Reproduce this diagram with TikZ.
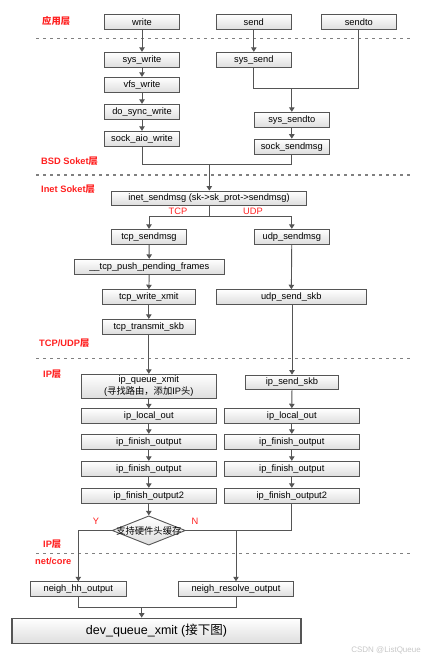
\documentclass[tikz,border=0pt]{standalone}
\usepackage{fontspec}
\setmainfont{Liberation Sans}
\newfontfamily\cjkfont{Noto Sans CJK SC}
\newcommand\zhtxt[1]{{\cjkfont #1}}
\usetikzlibrary{arrows.meta,shapes.geometric}
\definecolor{linegray}{HTML}{555555}
\definecolor{labelred}{HTML}{FF2020}
\tikzset{
  fbox/.style={draw=linegray, line width=0.9pt, top color=white, bottom color=black!13,
    minimum height=15pt, inner sep=0pt, font=\fontsize{9.3}{10}\selectfont, text=black},
  conn/.style={draw=linegray, line width=0.9pt},
  arr/.style={conn, -{Triangle[width=5.5pt,length=4.5pt]}},
  sep/.style={draw=black!50, line width=1.1pt, dash pattern=on 2.5pt off 4.5pt},
  layer/.style={text=labelred, font=\bfseries\fontsize{9.3}{10}\selectfont, anchor=west, inner sep=0pt},
  branch/.style={text=labelred, font=\fontsize{9.3}{10}\selectfont, inner sep=0pt},
}
\begin{document}
\begin{tikzpicture}[x=1pt,y=-1pt]
\useasboundingbox (0,0) rectangle (424,662);
% separators
\coordinate (s1a) at (36,38.3); \coordinate (s1b) at (412,38.3);
\coordinate (s2a) at (36,175); \coordinate (s2b) at (412,175);
\coordinate (s3a) at (36,358.3); \coordinate (s3b) at (412,358.3);
\coordinate (s4a) at (36,553.3); \coordinate (s4b) at (412,553.3);
\draw[sep] (s1a) -- (s1b);
\draw[sep] (s2a) -- (s2b);
\draw[sep] (s3a) -- (s3b);
\draw[sep] (s4a) -- (s4b);
% layer labels
\node[layer] (lapp) at (42,21) {\zhtxt{应用层}};
\node[layer] (lbsd) at (41,161) {BSD Soket\zhtxt{层}};
\node[layer] (linet) at (41,188.7) {Inet Soket\zhtxt{层}};
\node[layer] (ltcp) at (39,343.3) {TCP/UDP\zhtxt{层}};
\node[layer] (lip1) at (43,374) {IP\zhtxt{层}};
\node[layer] (lip2) at (43,544.3) {IP\zhtxt{层}};
\node[layer] (lnet) at (35,561) {net/core};
% application
\node[fbox, minimum width=74.6pt] (write) at (142,21.8) {write};
\node[fbox, minimum width=75pt] (send) at (253.8,21.8) {send};
\node[fbox, minimum width=75pt] (sendto) at (358.8,21.8) {sendto};
\node[fbox, minimum width=74.6pt] (syswrite) at (142,59.8) {sys\_write};
\node[fbox, minimum width=74.6pt] (vfswrite) at (142,84.8) {vfs\_write};
\node[fbox, minimum width=74.6pt] (dosync) at (142,111.8) {do\_sync\_write};
\node[fbox, minimum width=74.6pt] (sockaio) at (142,138.8) {sock\_aio\_write};
\node[fbox, minimum width=75pt] (syssend) at (253.8,59.8) {sys\_send};
\node[fbox, minimum width=75pt] (syssendto) at (291.8,119.8) {sys\_sendto};
\node[fbox, minimum width=75pt] (socksendmsg) at (291.8,146.6) {sock\_sendmsg};
% inet
\node[fbox, minimum width=194.6pt, minimum height=14pt] (inet) at (209,198) {inet\_sendmsg (sk->sk\_prot->sendmsg)};
\node[fbox, minimum width=74.6pt] (tcpsend) at (149,236.8) {tcp\_sendmsg};
\node[fbox, minimum width=75pt] (udpsend) at (291.8,236.8) {udp\_sendmsg};
\node[fbox, minimum width=150pt] (tcppush) at (149.3,266.8) {\_\_tcp\_push\_pending\_frames};
\node[fbox, minimum width=93pt, minimum height=14.6pt] (tcpwrite) at (148.8,297) {tcp\_write\_xmit};
\node[fbox, minimum width=150pt, minimum height=14.6pt] (udpskb) at (291.3,297) {udp\_send\_skb};
\node[fbox, minimum width=93pt, minimum height=14.7pt] (tcptrans) at (148.8,326.7) {tcp\_transmit\_skb};
\node[branch] (ltcpb) at (178,211.7) {TCP};
\node[branch] (ludpb) at (253,211.7) {UDP};
% IP
\node[fbox, minimum width=135pt, minimum height=24pt, align=center, font=\fontsize{9.3}{12.5}\selectfont] (ipqueue) at (148.8,386.3) {ip\_queue\_xmit\\(\zhtxt{寻找路由，添加}IP\zhtxt{头})};
\node[fbox, minimum width=92.6pt, minimum height=14.3pt] (ipsendskb) at (292,382.2) {ip\_send\_skb};
\node[fbox, minimum width=135pt, minimum height=14.6pt] (lout1) at (148.8,416) {ip\_local\_out};
\node[fbox, minimum width=135pt, minimum height=14.6pt] (lout2) at (291.8,416) {ip\_local\_out};
\node[fbox, minimum width=135pt] (fin1a) at (148.8,441.8) {ip\_finish\_output};
\node[fbox, minimum width=135pt] (fin2a) at (291.8,441.8) {ip\_finish\_output};
\node[fbox, minimum width=135pt] (fin1b) at (148.8,468.8) {ip\_finish\_output};
\node[fbox, minimum width=135pt] (fin2b) at (291.8,468.8) {ip\_finish\_output};
\node[fbox, minimum width=135pt] (fin1c) at (148.8,495.8) {ip\_finish\_output2};
\node[fbox, minimum width=135pt] (fin2c) at (291.8,495.8) {ip\_finish\_output2};
\node[diamond, draw=linegray, line width=0.9pt, top color=white, bottom color=black!13, aspect=2.5,
  minimum width=73.3pt, minimum height=29.3pt, inner sep=0pt] (hwc) at (148.8,530.5) {};
\node[font=\fontsize{9.3}{10}\selectfont, inner sep=0pt] (hwct) at (148.8,530.5) {\zhtxt{支持硬件头缓存}};
\node[branch] (ly) at (96,521.7) {Y};
\node[branch] (ln) at (195,521) {N};
% net/core
\node[fbox, minimum width=96pt] (neighhh) at (78.3,589.2) {neigh\_hh\_output};
\node[fbox, minimum width=114.6pt] (neighres) at (236,589.2) {neigh\_resolve\_output};
\node[fbox, line width=1.4pt, minimum width=289pt, minimum height=25pt, font=\fontsize{12.5}{14}\selectfont] (devq) at (156.5,630.8) {dev\_queue\_xmit (\zhtxt{接下图})};
\node[text=black!22, font=\fontsize{8}{9}\selectfont, anchor=east, inner sep=0pt] (wm) at (421,650) {CSDN @ListQueue};
% connectors: application
\draw[arr] (write) -- (syswrite);
\draw[arr] (syswrite) -- (vfswrite);
\draw[arr] (vfswrite) -- (dosync);
\draw[arr] (dosync) -- (sockaio);
\draw[arr] (send) -- (syssend);
\coordinate (j1l) at (253.8,88.3);
\coordinate (j1r) at (358.8,88.3);
\coordinate (j1m) at (291.8,88.3);
\draw[conn] (syssend.south) -- (j1l) -- (j1r) -- (sendto.south);
\draw[arr] (j1m) -- (syssendto);
\draw[arr] (syssendto) -- (socksendmsg);
\coordinate (j2l) at (142,164.3);
\coordinate (j2r) at (291.8,164.3);
\coordinate (j2m) at (209.3,164.3);
\draw[conn] (sockaio.south) -- (j2l) -- (j2r) -- (socksendmsg.south);
\draw[arr] (j2m) -- (inet.north -| j2m);
% inet branches
\coordinate (j3m) at (209.3,216.7);
\coordinate (j3l) at (149,216.7);
\coordinate (j3r) at (291.8,216.7);
\draw[conn] (inet.south -| j3m) -- (j3m);
\draw[arr] (j3m) -- (j3l) -- (tcpsend.north);
\draw[arr] (j3m) -- (j3r) -- (udpsend.north);
\draw[arr] (tcpsend) -- (tcppush);
\draw[arr] (tcppush) -- (tcpwrite);
\draw[arr] (tcpwrite) -- (tcptrans);
\draw[arr] (udpsend) -- (udpskb);
\draw[arr] (tcptrans) -- (ipqueue);
\draw[arr] (udpskb.south -| ipsendskb) -- (ipsendskb);
% IP columns
\draw[arr] (ipqueue) -- (lout1);
\draw[arr] (lout1) -- (fin1a);
\draw[arr] (fin1a) -- (fin1b);
\draw[arr] (fin1b) -- (fin1c);
\draw[arr] (fin1c) -- (hwc);
\draw[arr] (ipsendskb) -- (lout2);
\draw[arr] (lout2) -- (fin2a);
\draw[arr] (fin2a) -- (fin2b);
\draw[arr] (fin2b) -- (fin2c);
% diamond branches
\coordinate (j4l) at (78.3,530.5);
\coordinate (j4r) at (291.8,530.5);
\coordinate (j4m) at (236,530.5);
\draw[arr] (hwc.west) -- (j4l) -- (neighhh.north);
\draw[conn] (hwc.east) -- (j4r) -- (fin2c.south);
\draw[arr] (j4m) -- (neighres.north);
% merge to dev_queue_xmit
\coordinate (j5l) at (78.3,607.3);
\coordinate (j5r) at (236,607.3);
\coordinate (j5m) at (141.7,607.3);
\draw[conn] (neighhh.south) -- (j5l) -- (j5r) -- (neighres.south);
\draw[arr] (j5m) -- (devq.north -| j5m);
\end{tikzpicture}
\end{document}
